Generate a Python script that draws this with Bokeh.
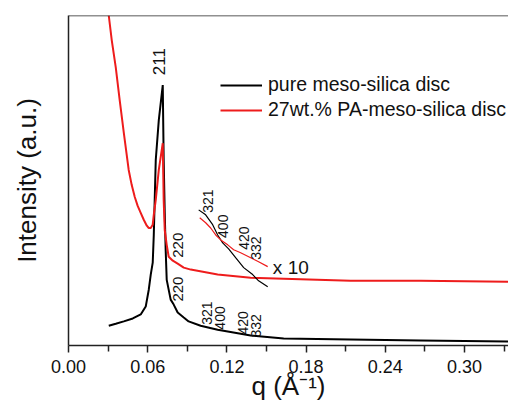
import math
from bokeh.plotting import figure
from bokeh.models import (Range1d, FixedTicker, PrintfTickFormatter, Span, Legend, LegendItem,
                          ColumnDataSource)
from bokeh.core.properties import value
from bokeh.embed import file_html
from bokeh.resources import INLINE

# ---- data (q in 1/Angstrom, intensity in arbitrary units) ----
q_pure = [0.0305, 0.0358, 0.0419, 0.0487, 0.0547, 0.0585, 0.0608, 0.0623, 0.0638, 0.0646,
          0.0661, 0.0684, 0.0714, 0.0721, 0.0729, 0.0736, 0.0744, 0.0774, 0.0797, 0.0827,
          0.0873, 0.0910, 0.1001, 0.1130, 0.1380, 0.1630, 0.2137, 0.2667, 0.3333]
i_pure = [0.060, 0.066, 0.073, 0.082, 0.094, 0.118, 0.169, 0.215, 0.251, 0.335,
          0.562, 0.683, 0.789, 0.562, 0.402, 0.290, 0.199, 0.139, 0.124, 0.100,
          0.085, 0.073, 0.060, 0.048, 0.030, 0.021, 0.018, 0.015, 0.012]

q_pa = [0.0305, 0.0328, 0.0358, 0.0388, 0.0419, 0.0456, 0.0479, 0.0502, 0.0524, 0.0547,
        0.0570, 0.0593, 0.0608, 0.0623, 0.0638, 0.0646, 0.0661, 0.0684, 0.0714, 0.0721,
        0.0729, 0.0744, 0.0759, 0.0790, 0.0827, 0.0873, 0.0926, 0.1130, 0.1380, 0.1630,
        0.2137, 0.2667, 0.3333]
i_pa = [1.000, 0.924, 0.843, 0.743, 0.644, 0.532, 0.486, 0.450, 0.423, 0.402,
        0.381, 0.363, 0.356, 0.356, 0.366, 0.396, 0.441, 0.532, 0.613, 0.441,
        0.350, 0.305, 0.269, 0.257, 0.248, 0.236, 0.230, 0.215, 0.205, 0.202,
        0.196, 0.196, 0.193]

# x10 magnified segments
q_pure_x10 = [0.0986, 0.1039, 0.1092, 0.1130, 0.1168, 0.1213, 0.1266, 0.1327, 0.1395, 0.1440, 0.1509]
i_pure_x10 = [0.411, 0.396, 0.366, 0.335, 0.311, 0.293, 0.266, 0.236, 0.215, 0.196, 0.178]
q_pa_x10 = [0.0994, 0.1039, 0.1077, 0.1115, 0.1153, 0.1206, 0.1251, 0.1304, 0.1380, 0.1440, 0.1509]
i_pa_x10 = [0.387, 0.372, 0.356, 0.335, 0.320, 0.305, 0.290, 0.281, 0.266, 0.254, 0.239]

# peak index labels
peak_text = ["211", "220", "220", "321", "400", "420", "332", "321", "400", "420", "332"]
peak_q = [0.0684, 0.0828, 0.0828, 0.1048, 0.1146, 0.1320, 0.1418, 0.1056, 0.1168, 0.1327, 0.1418]
peak_i = [0.819, 0.266, 0.133, 0.063, 0.048, 0.033, 0.024, 0.402, 0.326, 0.290, 0.260]
peak_size = ["17px", "15px", "15px", "14px", "14px", "14px", "14px", "14px", "14px", "14px", "14px"]

x_ticks = [0.00, 0.06, 0.12, 0.18, 0.24, 0.30]
x_minor = [0.03, 0.09, 0.15, 0.21, 0.27, 0.33]

FONT = "Liberation Sans"
AXC = "#222222"
RED = "#ee1c1c"

p = figure(width=508, height=403, output_backend="svg", toolbar_location=None,
           x_range=Range1d(0, 0.3333), y_range=Range1d(0, 1.0),
           min_border_left=68, min_border_right=0, min_border_top=15, min_border_bottom=57)
p.background_fill_color = "white"
p.border_fill_color = "white"
p.outline_line_color = None
p.grid.visible = False

# axes
xa = p.xaxis[0]
xa.ticker = FixedTicker(ticks=x_ticks, minor_ticks=x_minor)
xa.formatter = PrintfTickFormatter(format="%.2f")
xa.axis_line_color = AXC
xa.axis_line_width = 1.5
xa.major_tick_line_color = AXC
xa.major_tick_line_width = 1.5
xa.minor_tick_line_color = AXC
xa.minor_tick_line_width = 1.5
xa.major_tick_in = 0
xa.major_tick_out = 7
xa.minor_tick_in = 0
xa.minor_tick_out = 6
xa.major_label_text_font = FONT
xa.major_label_text_font_size = "18px"
xa.major_label_text_color = "#111111"
xa.major_label_standoff = 7
xa.axis_label = "q (Å⁻¹)"
xa.axis_label_text_font = FONT
xa.axis_label_text_font_size = "26px"
xa.axis_label_text_font_style = "normal"
xa.axis_label_text_color = "#111111"
xa.axis_label_standoff = -5

ya = p.yaxis[0]
ya.ticker = FixedTicker(ticks=[])
ya.axis_line_color = AXC
ya.axis_line_width = 1.5
ya.major_tick_line_color = None
ya.minor_tick_line_color = None
ya.axis_label = "Intensity (a.u.)"
ya.axis_label_text_font = FONT
ya.axis_label_text_font_size = "26px"
ya.axis_label_text_font_style = "normal"
ya.axis_label_text_color = "#111111"
ya.axis_label_standoff = 27

# top border of the frame
p.add_layout(Span(location=1.0, dimension="width", line_color=AXC, line_width=1.5))

# curves
r_pure = p.line(q_pure, i_pure, line_color="black", line_width=2)
r_pa = p.line(q_pa, i_pa, line_color=RED, line_width=2)
p.line(q_pure_x10, i_pure_x10, line_color="black", line_width=1.2)
p.line(q_pa_x10, i_pa_x10, line_color=RED, line_width=1.2)

# peak labels (rotated)
src = ColumnDataSource(dict(x=peak_q, y=peak_i, t=peak_text, s=peak_size))
p.text(x="x", y="y", text="t", source=src, angle=math.pi / 2,
       text_align="left", text_baseline="middle", text_font=value(FONT),
       text_font_size="s", text_color="#111111")

p.text(x=[0.1548], y=[0.236], text=["x 10"], text_align="left", text_baseline="middle",
       text_font=value(FONT), text_font_size="19px", text_color="#111111")

legend = Legend(items=[LegendItem(label="pure meso-silica disc", renderers=[r_pure]),
                       LegendItem(label="27wt.% PA-meso-silica disc", renderers=[r_pa])],
                location=(152, 224), padding=0, margin=0, spacing=2,
                glyph_width=42, glyph_height=20, label_height=20, label_standoff=6,
                label_text_font=FONT, label_text_font_size="19.5px", label_text_color="#111111",
                border_line_color=None, background_fill_alpha=0)
p.add_layout(legend)

open("out.html", "w").write(file_html(p, INLINE))
